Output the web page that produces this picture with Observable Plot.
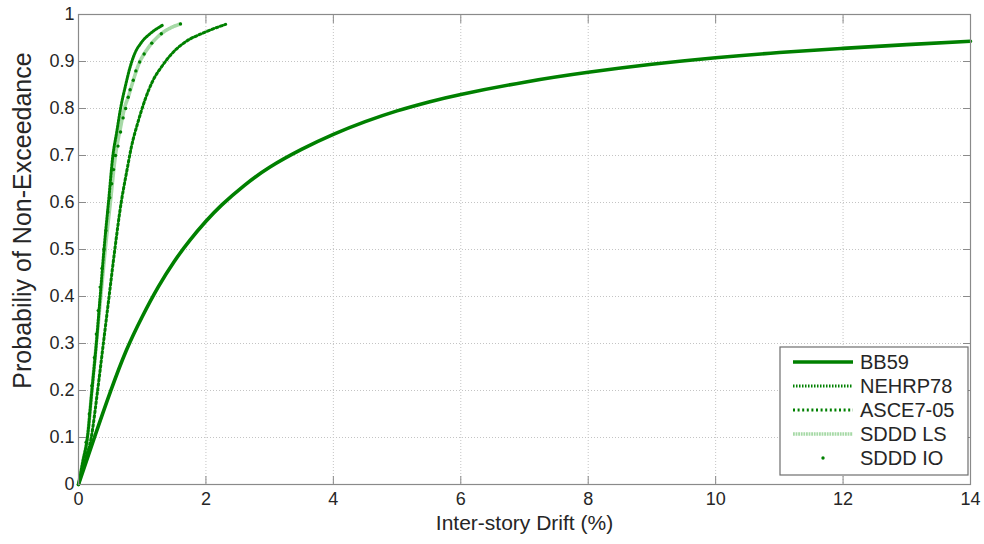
<!DOCTYPE html>
<html><head><meta charset="utf-8">
<script src="https://cdn.jsdelivr.net/npm/d3@7"></script>
<script src="https://cdn.jsdelivr.net/npm/@observablehq/plot@0.6"></script>
<style>body{margin:0;background:#fff;} #chart{width:984px;height:544px;}</style>
</head><body><div id="chart"></div>
<script>
// ---- data ----
const xTicks = [0, 2, 4, 6, 8, 10, 12, 14];
const yTicks = [0, 0.1, 0.2, 0.3, 0.4, 0.5, 0.6, 0.7, 0.8, 0.9, 1];
const yTickLabels = ["0", "0.1", "0.2", "0.3", "0.4", "0.5", "0.6", "0.7", "0.8", "0.9", "1"];
const seriesNames = ["BB59", "NEHRP78", "ASCE7-05", "SDDD LS", "SDDD IO"];

const bb59Drift = [0, 0.25, 0.5, 0.75, 1.0, 1.25, 1.5, 1.75, 2.0, 2.25, 2.6, 3.0, 3.5, 4.0, 4.5, 5.0, 5.5, 6, 7, 8, 9, 10, 11, 12, 13, 14];
const bb59Prob  = [0, 0.1, 0.197, 0.285, 0.357, 0.42, 0.474, 0.52, 0.56, 0.595, 0.636, 0.675, 0.713, 0.745, 0.772, 0.795, 0.814, 0.83, 0.856, 0.877, 0.894, 0.908, 0.919, 0.928, 0.936, 0.943];

const nehrpDrift = [0, 0.07, 0.14, 0.21, 0.28, 0.34, 0.40, 0.47, 0.54, 0.60, 0.66, 0.74, 0.81, 0.88, 0.99, 1.15, 1.33];
const nehrpProb  = [0, 0.05, 0.1, 0.2, 0.3, 0.4, 0.5, 0.6, 0.7, 0.75, 0.8, 0.85, 0.888, 0.916, 0.941, 0.962, 0.978];

const asceDrift = [0, 0.10, 0.20, 0.30, 0.39, 0.48, 0.57, 0.67, 0.75, 0.83, 0.94, 1.04, 1.17, 1.30, 1.46, 1.67, 1.98, 2.31];
const asceProb  = [0, 0.05, 0.1, 0.2, 0.3, 0.4, 0.5, 0.6, 0.661, 0.718, 0.774, 0.817, 0.86, 0.888, 0.916, 0.941, 0.962, 0.979];

const lsDrift = [0, 0.07, 0.14, 0.21, 0.28, 0.35, 0.42, 0.50, 0.58, 0.66, 0.72, 0.78, 0.86, 0.96, 1.03, 1.15, 1.30, 1.60];
const lsProb  = [0, 0.05, 0.1, 0.2, 0.3, 0.4, 0.5, 0.6, 0.7, 0.76, 0.8, 0.824, 0.86, 0.899, 0.916, 0.939, 0.959, 0.98];

const ioDrift = [0, 0.07, 0.12, 0.17, 0.21, 0.25, 0.28, 0.31, 0.34, 0.37, 0.40, 0.43, 0.46, 0.49, 0.52, 0.55, 0.58, 0.62, 0.66, 0.70, 0.74, 0.78, 0.81, 0.86, 0.90, 0.96, 1.03, 1.15, 1.30, 1.60];
const ioProb  = [0, 0.04, 0.09, 0.15, 0.21, 0.27, 0.32, 0.37, 0.42, 0.46, 0.50, 0.54, 0.58, 0.61, 0.64, 0.67, 0.70, 0.72, 0.75, 0.78, 0.80, 0.824, 0.84, 0.86, 0.88, 0.899, 0.916, 0.939, 0.959, 0.98];

// ---- styles ----
const green = "#008000";
const lightGreen = "#a6d9a6";
const frameColor = "#8a8a8a";
const textColor = "#262626";
const font = "'Liberation Sans', Arial, sans-serif";

const rows = (name, xs, ps) => xs.map((x, i) => ({name, x, p: ps[i]}));
const bb59 = rows(seriesNames[0], bb59Drift, bb59Prob);
const nehrp = rows(seriesNames[1], nehrpDrift, nehrpProb);
const asce = rows(seriesNames[2], asceDrift, asceProb);
const ls = rows(seriesNames[3], lsDrift, lsProb);
const io = rows(seriesNames[4], ioDrift, ioProb);

const styles = {
  "BB59":     {stroke: green, strokeWidth: 3.6, dash: null, curve: "natural"},
  "NEHRP78":  {stroke: green, strokeWidth: 3, dash: "1.5,1.5", curve: "monotone-x"},
  "ASCE7-05": {stroke: green, strokeWidth: 3, dash: "2,2.6", curve: "monotone-x"},
  "SDDD LS":  {stroke: lightGreen, strokeWidth: 3.6, dash: "1.8,0.8", curve: "monotone-x"},
  "SDDD IO":  {dot: true, fill: green, r: 1.7}
};
const lineMark = (data, s) => Plot.line(data, {x: "x", y: "p", curve: s.curve, stroke: s.stroke, strokeWidth: s.strokeWidth, strokeDasharray: s.dash});

const plot = Plot.plot({
  width: 984, height: 544,
  marginLeft: 78, marginRight: 14, marginTop: 14, marginBottom: 60,
  x: {domain: [0, 14]},
  y: {domain: [0, 1]},
  style: {fontFamily: font, fontSize: "18px", color: textColor, background: "#fff", overflow: "visible"},
  marks: [
    Plot.gridX(xTicks, {stroke: "#c4c4c4", strokeOpacity: 1, strokeDasharray: "1,2"}),
    Plot.gridY(yTicks, {stroke: "#c4c4c4", strokeOpacity: 1, strokeDasharray: "1,2"}),
    lineMark(ls, styles["SDDD LS"]),
    Plot.dot(io, {x: "x", y: "p", r: styles["SDDD IO"].r, fill: green, stroke: "none"}),
    lineMark(nehrp, styles["NEHRP78"]),
    lineMark(asce, styles["ASCE7-05"]),
    lineMark(bb59, styles["BB59"]),
    Plot.frame({stroke: frameColor, strokeWidth: 1.2}),
    Plot.axisX(xTicks, {anchor: "bottom", tickSize: -8, tickPadding: 16, stroke: frameColor, label: null, fill: textColor}),
    Plot.axisX(xTicks, {anchor: "top", tickSize: -8, tickPadding: 0, stroke: frameColor, label: null, tickFormat: () => ""}),
    Plot.axisY(yTicks, {anchor: "left", tickSize: -8, tickPadding: 12, stroke: frameColor, label: null, fill: textColor,
      tickFormat: d => yTickLabels[yTicks.indexOf(d)]}),
    Plot.axisY(yTicks, {anchor: "right", tickSize: -8, tickPadding: 0, stroke: frameColor, label: null, tickFormat: () => ""}),
    Plot.text(["Inter-story Drift (%)"], {frameAnchor: "bottom", dy: 45, fontSize: 21, fill: textColor, textAnchor: "middle"}),
    Plot.text(["Probabiliy of Non-Exceedance"], {frameAnchor: "left", textAnchor: "middle", rotate: -90, dx: -56, dy: -29, fontSize: 25, fill: textColor})
  ]
});
document.getElementById("chart").appendChild(plot);

// ---- legend (inside plot area, bottom right) ----
const svg = d3.select(plot);
const lg = svg.append("g").attr("transform", "translate(780,347)");
lg.append("rect").attr("width", 188).attr("height", 128).attr("fill", "#fff").attr("stroke", "#6e6e6e").attr("stroke-width", 1.2);
seriesNames.forEach((name, i) => {
  const s = styles[name];
  const y = 15 + i * 24;
  if (s.dot) {
    lg.append("circle").attr("cx", 43).attr("cy", y).attr("r", s.r).attr("fill", s.fill);
  } else {
    lg.append("line").attr("x1", 13).attr("x2", 73).attr("y1", y).attr("y2", y)
      .attr("stroke", s.stroke).attr("stroke-width", s.strokeWidth).attr("stroke-dasharray", s.dash);
  }
  lg.append("text").attr("x", 80).attr("y", y).attr("dy", "0.35em").attr("text-anchor", "start")
    .attr("font-family", font).attr("font-size", 20).attr("fill", textColor).text(name);
});
</script>
</body></html>
